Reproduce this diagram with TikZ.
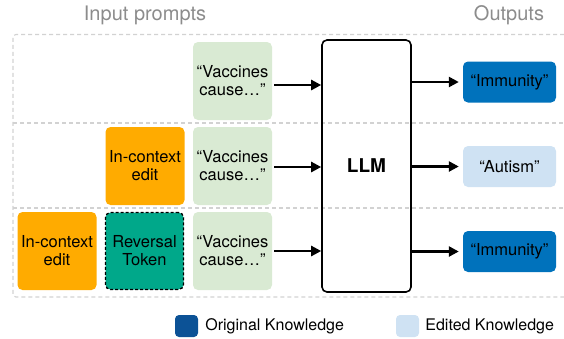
\documentclass[tikz,border=0pt]{standalone}
\usepackage{fontspec}
\setmainfont{TeX Gyre Heros}
\usepackage{tikz}
\usetikzlibrary{positioning,arrows.meta}

\definecolor{promptgreen}{HTML}{D9EAD3}
\definecolor{editorange}{HTML}{FFAB00}
\definecolor{revteal}{HTML}{00A88A}
\definecolor{origblue}{HTML}{0072BC}
\definecolor{legendblue}{HTML}{0C5296}
\definecolor{editblue}{HTML}{CFE2F3}
\definecolor{rowgray}{HTML}{D2D2D2}
\definecolor{titlegray}{HTML}{8C8C8C}

\tikzset{
    box/.style={rounded corners=5pt,align=center,inner sep=0pt,font=\fontsize{16.5}{18}\selectfont},
    promptbox/.style={box,fill=promptgreen,minimum width=79pt,minimum height=78pt},
    editbox/.style={box,fill=editorange,minimum width=79pt,minimum height=78pt},
    revbox/.style={box,fill=revteal,draw=black,dash pattern=on 3pt off 2pt,line width=1.3pt,minimum width=78pt,minimum height=77pt},
    outbox/.style={box,minimum width=93pt,minimum height=41pt},
    rowline/.style={draw=rowgray,line width=1.1pt,dash pattern=on 4pt off 3pt},
    feed/.style={line width=2.4pt,-{Triangle[length=10pt,width=10pt]}},
    title/.style={text=titlegray,font=\fontsize{20}{22}\selectfont},
    legendbox/.style={rounded corners=4pt,minimum width=23pt,minimum height=22pt,inner sep=0pt},
    legendtext/.style={font=\fontsize{16}{18}\selectfont,anchor=west,inner sep=0pt}
}

\begin{document}
\begin{tikzpicture}[x=1pt,y=-1pt]
    \useasboundingbox (0,0) rectangle (564,338);
    % row frames
    \draw[rowline] (564,34.5) -- (17,34.5) [rounded corners=3pt] -- (13,34.5) -- (13,297) -- (564,297);
    \draw[rowline] (13,123) -- (564,123);
    \draw[rowline] (13,208) -- (564,208);
    % titles
    \node[title] (intitle) at (145,15) {Input prompts};
    \node[title] (outtitle) at (509,15) {Outputs};
    % prompts
    \node[promptbox] (p1) at (232.5,81) {``Vaccines\\cause\ldots''};
    \node[promptbox] (p2) at (232.5,166) {``Vaccines\\cause\ldots''};
    \node[promptbox] (p3) at (232.5,251) {``Vaccines\\cause\ldots''};
    \node[editbox] (e2) at (145,166) {In-context\\edit};
    \node[editbox] (e3) at (57,251) {In-context\\edit};
    \node[revbox] (r3) at (144.5,251) {Reversal\\Token};
    % model
    \node[draw,line width=1.6pt,rounded corners=5pt,minimum width=89pt,minimum height=252pt,
          font=\fontsize{19}{21}\selectfont\bfseries] (llm) at (366.5,166) {LLM};
    % outputs
    \node[outbox,fill=origblue] (o1) at (509.5,82) {``Immunity''};
    \node[outbox,fill=editblue] (o2) at (509.5,166.5) {``Autism''};
    \node[outbox,fill=origblue] (o3) at (509.5,251.5) {``Immunity''};
    \draw[feed] (p1.east) ++(2,4) coordinate (a1) -- (a1 -| llm.west);
    \draw[feed] (p2.east) ++(2,1) coordinate (a2) -- (a2 -| llm.west);
    \draw[feed] (p3.east) ++(2,0) coordinate (a3) -- (a3 -| llm.west);
    \draw[feed] (llm.east |- o1) -- ([xshift=-4pt]o1.west);
    \draw[feed] (llm.east |- o2) -- ([xshift=-4pt]o2.west);
    \draw[feed] (llm.east |- o3) -- ([xshift=-4pt]o3.west);
    % legend
    \node[legendbox,fill=legendblue] (lorig) at (186.5,326) {};
    \node[legendtext,right=7pt of lorig] (lorigtext) {Original Knowledge};
    \node[legendbox,fill=editblue] (ledit) at (407.5,326) {};
    \node[legendtext,right=6pt of ledit] (ledittext) {Edited Knowledge};
\end{tikzpicture}
\end{document}
